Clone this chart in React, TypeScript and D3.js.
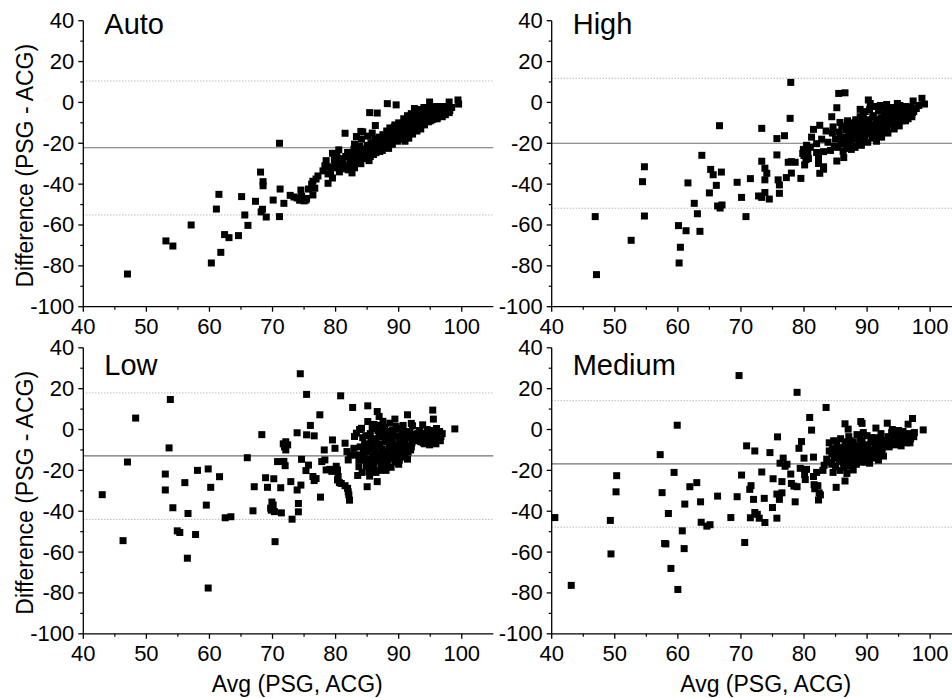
import React from 'react';
import * as d3 from 'd3';

// [avg, diff] pairs
const autoPts = [
  [47.0,-84.0],[53.1,-67.8],[54.2,-70.3],[57.1,-60.0],[60.3,-78.6],[61.1,-52.2],[61.5,-45.0],[61.8,-73.4],[62.4,-64.7],[63.1,-66.2],
  [64.6,-65.2],[65.1,-46.1],[65.6,-55.1],[66.1,-60.2],[67.3,-48.4],[68.1,-34.1],[68.2,-53.6],[68.4,-52.3],[68.5,-38.8],[68.5,-40.8],
  [69.0,-56.1],[70.1,-47.8],[71.1,-20.0],[71.2,-42.4],[71.1,-55.9],[71.8,-49.4],[72.8,-45.5],[73.4,-46.3],[73.9,-46.8],[74.3,-47.9],
  [74.6,-46.0],[75.0,-48.2],[75.4,-47.0],[74.5,-42.9],[75.3,-47.8],[75.7,-42.4],[76.2,-40.0],[76.4,-38.6],[76.9,-37.5],[76.4,-45.3],
  [76.7,-42.0],[77.2,-36.0],[78.3,-31.0],[78.8,-35.0],[78.8,-39.6],[79.5,-37.0],[79.0,-31.5],[79.6,-31.8],[80.2,-32.0],[80.8,-32.3],
  [81.4,-32.5],[82.0,-33.0],[82.6,-34.5],[83.0,-32.0],[83.2,-29.5],[83.6,-28.0],[82.7,-27.0],[79.5,-24.9],[80.2,-26.0],[80.5,-23.2],
  [81.5,-15.1],[83.0,-20.4],[83.3,-16.7],[84.3,-14.4],[84.0,-14.2],[85.4,-5.0],[86.6,-5.2],[86.3,-11.3],[85.3,-28.5],[88.2,-0.6],
  [89.6,-1.2],[94.9,0.2],[98.0,0.2],[99.4,1.2],[99.5,-0.8],
  [84.2,-25.5],[84.6,-22.8],[85.0,-21.0],[85.2,-24.0],[85.6,-19.8],[85.9,-22.5],[86.2,-18.0],[86.4,-24.6],[86.6,-20.5],[86.9,-17.0],
  [87.1,-22.0],[87.3,-19.0],[87.5,-15.8],[87.7,-21.0],[87.9,-17.5],[88.1,-14.0],[88.3,-19.5],[88.5,-16.0],[88.7,-13.0],[88.9,-18.5],
  [89.1,-15.0],[89.3,-12.0],[89.5,-17.0],[89.7,-14.0],[89.9,-11.5],[90.1,-16.5],[90.3,-13.0],[90.5,-18.0],[90.7,-11.0],[90.9,-14.5],
  [91.1,-16.0],[91.3,-10.0],[91.5,-12.5],[91.7,-15.0],[91.9,-8.5],[92.1,-11.0],[92.3,-13.5],[92.5,-3.0],[92.6,-7.0],[92.8,-9.5],
  [93.0,-12.0],[93.2,-5.5],[93.4,-8.0],[93.6,-4.0],[93.8,-10.0],[94.0,-6.5],[94.2,-3.5],[94.4,-8.5],[94.6,-5.0],[94.8,-7.0],
  [95.0,-9.0],[95.2,-4.0],[95.4,-6.0],[95.6,-8.0],[95.8,-3.0],[96.0,-5.5],[96.2,-7.0],[96.4,-4.0],[96.6,-2.5],[96.8,-5.0],
  [97.0,-6.0],[97.2,-3.5],[97.5,-4.5],[97.8,-3.0],[98.1,-4.0],[98.4,-2.5],
  [79.8,-28.0],[80.3,-29.5],[80.8,-27.5],[81.2,-30.0],[81.6,-26.5],[81.9,-24.5],[82.3,-29.0],[82.6,-25.5],[82.9,-23.0],[83.4,-26.0],
  [83.7,-24.0],[84.0,-30.0],[84.4,-27.5],[84.8,-25.0],[85.5,-26.5],[86.0,-25.5],[86.5,-22.0],[87.0,-24.0],[87.6,-18.5],[88.0,-21.5],
  [88.4,-22.5],[89.0,-20.5],[89.8,-19.0],[90.4,-15.5],[91.0,-19.0],[91.6,-17.5],[92.2,-15.5],[92.9,-14.0],[93.5,-13.0],[94.1,-11.0],
  [94.7,-9.5],[95.3,-8.5],[96.1,-8.0],[96.9,-7.0],[97.4,-6.0],[98.0,-5.0],[88.6,-12.5],[89.4,-11.0],[90.0,-10.0],[90.8,-8.0],
  [91.4,-6.5],[92.0,-5.5],[93.0,-3.5],[94.0,-2.5],[95.0,-2.5],[96.0,-2.0],[97.0,-2.0],
  [78.0,-33.5],[78.5,-28.5],[79.2,-34.0],[80.0,-30.5],[80.6,-34.0],[81.0,-28.5],[81.8,-31.0],[82.4,-31.5],[83.8,-21.5],[84.1,-18.0],
  [85.1,-16.5],[85.8,-15.0],[86.8,-19.0],[87.4,-23.5],[88.2,-16.8],[89.2,-13.5],[89.9,-15.0],[90.6,-12.5],[91.2,-13.0],[91.8,-10.5],
  [92.4,-8.0],[93.1,-6.5],[93.7,-7.0],[94.3,-5.0],[95.5,-5.0],[96.5,-5.5],[97.6,-4.0]
];

const highPts = [
  [46.9,-55.9],[47.1,-84.3],[52.6,-67.5],[54.4,-38.8],[54.7,-31.5],[54.7,-55.6],[60.1,-60.3],[60.2,-78.6],[60.4,-70.9],[61.3,-62.8],
  [61.6,-39.4],[62.6,-49.4],[63.1,-54.5],[63.5,-63.1],[63.8,-25.9],[65.0,-44.3],[65.2,-32.8],[65.6,-35.4],[66.1,-40.6],[66.3,-50.7],
  [66.7,-51.7],[66.9,-34.1],[67.0,-50.2],[66.6,-11.4],[69.4,-39.1],[70.1,-46.5],[70.8,-55.9],[71.5,-37.3],[72.8,-45.8],[73.3,-12.7],
  [73.3,-28.8],[73.3,-46.5],[73.8,-32.2],[73.8,-37.9],[74.1,-34.7],[73.8,-44.1],[74.5,-47.3],[75.7,-17.7],[75.7,-25.7],[75.9,-37.9],
  [76.1,-40.4],[76.1,-44.5],[76.9,-16.3],[77.8,-7.8],[77.9,9.8],[77.2,-36.8],[77.5,-29.3],[78.0,-29.0],[78.6,-29.3],[78.0,-34.6],
  [79.5,-37.2],[79.9,-23.0],[80.0,-26.0],[80.1,-30.6],[80.4,-21.0],[81.5,-13.2],[82.0,-20.2],[82.5,-11.2],[82.8,-18.0],[82.3,-27.4],
  [82.3,-29.9],[82.5,-34.7],[83.1,-24.1],[83.1,-31.5],[83.1,-32.7],[84.4,-7.0],[85.2,-2.6],[85.2,-28.7],[85.5,4.4],[86.5,4.7],
  [85.7,-9.8],[90.2,1.2],[88.9,-3.4],[94.8,-0.5],[97.3,0.7],[98.7,2.0],[99.1,-0.8],[80.6,-24.5],[81.0,-22.0],[80.3,-28.0],
  [84.5,-15.0],[85.0,-18.0],[84.8,-21.5],[85.6,-14.5],[85.9,-20.5],[86.2,-24.0],[86.6,-17.0],[86.8,-22.5],
  [87.0,-12.0],[87.2,-16.0],[87.4,-20.0],[87.6,-10.0],[87.8,-14.0],[88.0,-18.0],[88.2,-8.5],[88.4,-12.5],[88.6,-16.5],[88.8,-20.5],
  [89.0,-10.5],[89.2,-14.5],[89.4,-6.0],[89.6,-18.0],[89.8,-12.0],[90.0,-8.5],[90.2,-15.5],[90.4,-3.5],[90.6,-11.0],[90.8,-17.5],
  [91.0,-6.5],[91.2,-13.5],[91.4,-9.5],[91.6,-16.0],[91.8,-4.0],[92.0,-11.5],[92.2,-7.5],[92.4,-14.0],[92.6,-2.5],[92.8,-9.0],
  [93.0,-5.5],[93.2,-12.0],[93.4,-3.0],[93.6,-8.0],[93.8,-10.5],[94.0,-5.0],[94.2,-2.5],[94.4,-7.5],[94.6,-11.0],[94.8,-4.5],
  [95.0,-9.0],[95.2,-1.5],[95.4,-6.5],[95.6,-3.5],[95.8,-8.0],[96.0,-5.0],[96.2,-2.0],[96.4,-6.5],[96.6,-3.5],[96.8,-5.0],
  [97.0,-2.5],[97.4,-4.5],[97.8,-3.0],[98.2,-1.5],
  [87.5,-23.0],[88.1,-22.0],[89.1,-21.0],[90.1,-19.5],[88.9,-7.0],[89.7,-4.5],[90.5,-0.5],[91.3,-2.0],[92.1,-1.5],[93.1,-1.0],
  [91.5,-19.0],[92.3,-17.0],[93.3,-15.0],[94.3,-13.0],[95.1,-11.5],[96.1,-9.0],[97.1,-7.0],
  [86.0,-11.5],[86.4,-19.5],[86.9,-9.0],[87.1,-14.5],[87.3,-18.0],[87.7,-12.5],[87.9,-21.5],[88.3,-15.0],[88.5,-10.0],[88.7,-18.5],
  [89.1,-12.5],[89.3,-16.5],[89.5,-9.5],[89.9,-14.0],[90.3,-10.0],[90.7,-13.5],[90.9,-7.0],[91.1,-16.0],[91.5,-11.5],[91.7,-8.5],
  [91.9,-14.0],[92.5,-11.0],[92.7,-6.0],[93.5,-10.0],[93.9,-7.0],[94.5,-9.5],[94.9,-6.0],[95.5,-9.0],[95.9,-6.0],[96.5,-8.0],
  [97.2,-5.0],[83.8,-19.5],[84.2,-23.5],[84.6,-12.0],[85.3,-22.0],[85.8,-17.5],[86.3,-27.0],[86.7,-13.5],[81.2,-17.0],[83.5,-14.0],
  [82.0,-24.5],[80.7,-27.5],[79.8,-25.0]
];

const lowPts = [
  [43.0,-31.9],[46.3,-54.4],[47.0,-15.9],[48.3,5.6],[53.0,-21.8],[53.0,-29.6],[53.6,-9.0],[53.8,14.7],[54.2,-38.3],[54.9,-49.6],
  [55.3,-50.4],[56.1,-26.0],[56.5,-63.0],[56.6,-41.1],[57.8,-51.4],[58.1,-20.0],[59.5,-37.0],[59.8,-19.3],[59.8,-77.6],[60.2,-28.3],
  [61.6,-23.1],[62.5,-43.2],[63.4,-42.7],[66.0,-13.8],[66.9,-39.8],[67.1,-28.0],[68.3,-2.5],[68.9,-23.6],[69.2,-28.3],[69.7,-38.5],
  [69.9,-35.5],[70.1,-37.0],[69.8,-39.5],[70.3,-40.2],[70.2,-24.1],[70.4,-54.9],[70.8,-15.7],[71.3,-28.5],[71.4,-40.8],[71.7,-7.0],
  [71.9,-8.5],[72.1,-6.0],[72.4,-7.5],[71.8,-15.6],[72.0,-17.7],[72.1,-10.0],[72.9,-25.5],[73.1,-43.9],[73.9,-29.6],[73.9,-1.6],
  [74.1,-36.2],[74.1,-40.3],[74.4,27.3],[74.5,-27.2],[74.6,-14.6],[75.3,-20.1],[75.4,17.2],[75.4,-2.6],[75.7,-17.4],[76.0,2.0],
  [76.4,-23.0],[76.6,-25.0],[76.9,-24.0],[76.6,-3.1],[77.5,7.2],[77.6,-33.1],[77.8,-15.7],[78.3,-14.9],[78.2,-10.0],[78.5,-19.8],
  [79.1,-19.5],[79.4,-20.5],[79.5,-5.1],[79.9,-9.2],[80.1,-18.0],[80.3,-19.8],[80.4,-23.0],[80.3,-24.7],[80.6,-26.0],[80.9,-26.4],
  [80.8,16.5],[81.5,-27.5],[81.9,-28.8],[82.0,-30.5],[82.1,-32.0],[82.2,-34.6],[81.5,-6.7],[81.8,-10.8],[82.3,-12.5],[82.0,-14.9],
  [82.7,10.8],[83.0,-3.4],[83.3,-1.8],[83.8,0.0],[84.1,0.6],[82.9,-9.2],[83.1,-12.5],[83.7,-15.0],[83.7,-18.2],[84.4,-10.0],
  [84.7,-15.0],[85.0,-28.0],[85.1,11.6],[85.1,3.9],[84.9,-18.0],[85.3,-20.5],[85.4,-22.8],[86.6,8.8],[86.9,6.4],[86.6,-25.5],
  [87.5,-19.0],[88.6,3.1],[89.4,5.1],[91.4,7.2],[92.0,3.0],[92.2,1.8],[93.8,2.3],[95.4,9.5],[95.5,5.1],[98.9,0.3],
  [89.1,-14.0],[90.1,-15.0],[91.0,-13.5],[91.4,-14.5],
  [85.5,-2.0],[85.7,-8.0],[85.9,-13.0],[86.0,-17.5],[86.2,-4.5],[86.3,-10.5],[86.5,-15.0],[86.7,-0.5],[86.8,-7.0],[87.0,-12.0],
  [87.1,-20.0],[87.3,-3.5],[87.4,-9.5],[87.6,-14.5],[87.8,1.0],[87.9,-6.0],[88.1,-11.0],[88.2,-17.0],[88.4,-2.5],[88.5,-8.5],
  [88.7,-13.5],[88.9,-5.0],[89.0,-0.5],[89.2,-10.0],[89.4,-16.0],[89.6,-3.0],[89.7,-7.5],[89.9,-12.0],[90.1,0.5],[90.3,-5.5],
  [90.4,-9.0],[90.6,-2.0],[90.8,-11.0],[91.0,-6.5],[91.2,-1.0],[91.4,-8.0],[91.7,-4.0],[91.9,-10.0],[92.1,-6.5],[92.3,-2.5],
  [85.8,0.5],[86.4,-21.0],[87.2,-17.5],[88.0,-20.0],[86.1,2.5],[87.5,4.0],[88.8,-18.5],[90.0,-17.0],[84.3,-4.0],[84.6,-7.0],
  [85.2,-11.0],[85.3,-14.5],[84.2,-21.0],[83.5,-22.5],[84.0,-12.5],
  [92.6,-4.0],[92.9,-5.5],[93.2,-3.0],[93.5,-6.0],[93.8,-4.5],[94.1,-7.0],[94.3,-2.0],[94.6,-5.5],[94.9,-7.5],[95.1,-3.5],
  [95.3,-6.5],[95.5,-1.5],[95.7,-4.5],[95.9,-7.0],[96.1,-2.5],[96.3,-5.0],[96.5,-1.0],[96.7,-3.5],[96.9,-2.0],[95.0,-0.5],
  [94.5,0.0],[96.0,0.5],[93.3,-0.5],
  [85.6,-5.0],[85.9,-9.5],[86.1,-16.0],[86.4,-6.5],[86.6,-12.5],[86.9,-2.5],[87.0,-8.0],[87.2,-14.0],[87.5,-0.5],[87.7,-11.5],
  [88.0,-4.0],[88.3,-14.5],[88.6,-6.5],[88.8,-10.5],[89.1,-2.0],[89.3,-7.5],[89.5,-12.5],[89.8,-9.5],[90.0,-4.0],[90.2,-12.5],
  [90.5,-7.0],[90.9,-3.5],[91.1,-9.5],[91.5,-11.0],[91.8,-1.5],[92.0,-8.5],[86.2,-20.0],[87.8,-16.5],[85.0,-9.0],[84.8,-3.0],
  [85.4,-17.0],[84.5,-12.5],[83.9,-8.5],[88.5,-1.0],[90.7,2.0],[89.6,1.5],[87.0,2.0],
  [93.0,-2.0],[93.6,-2.5],[94.0,-5.0],[94.8,-3.0],[95.6,-2.5],[96.2,-3.5],[96.6,-5.5],[95.8,-5.5],[94.4,-4.0],[93.9,-6.5]
];

const mediumPts = [
  [40.5,-43.1],[43.1,-76.3],[49.3,-44.5],[49.4,-60.9],[50.2,-30.5],[50.3,-22.6],[57.2,-12.3],[57.5,-30.9],[57.9,-55.8],[58.1,-56.0],
  [58.5,-41.1],[58.9,-68.0],[59.4,-21.0],[59.9,2.1],[60.0,-78.3],[60.7,-49.6],[61.0,-58.3],[61.1,-36.5],[61.9,-28.0],[63.0,-26.0],
  [63.6,-35.4],[63.7,-45.4],[64.6,-47.3],[65.1,-46.6],[66.3,-32.6],[68.4,-43.1],[69.4,-32.9],[69.7,26.4],[70.1,-22.3],[70.6,-55.3],
  [70.9,-8.0],[71.4,-29.3],[71.6,-27.5],[71.5,-43.2],[72.0,-34.2],[72.2,-10.5],[72.2,-40.6],[72.6,-41.5],[72.9,-43.4],[73.3,-20.8],
  [73.7,-33.7],[73.8,-45.5],[74.6,-11.3],[75.0,-38.2],[75.1,-24.1],[75.8,-3.6],[75.7,-31.6],[75.7,-43.4],[76.1,-34.2],[76.5,-31.0],
  [76.5,-25.5],[76.2,-16.5],[76.7,-14.0],[77.0,-18.0],[77.3,-17.0],[77.9,-21.8],[78.0,-26.4],[78.6,-35.4],[78.4,-27.7],[78.9,18.2],
  [78.9,-28.0],[79.2,-9.2],[79.6,-5.9],[79.4,-19.0],[80.0,-14.0],[80.1,-22.0],[80.2,-24.5],[80.4,-19.5],[80.9,5.9],[81.2,-0.3],
  [81.5,-13.5],[81.5,-23.0],[81.6,-27.0],[81.7,-29.0],[82.0,-21.0],[82.2,-27.5],[82.4,-31.0],[82.3,-34.5],[82.6,-32.0],[83.5,10.8],
  [83.6,-14.5],[84.0,-6.5],[84.4,-12.0],[85.1,-28.3],[86.5,2.8],[87.0,0.2],[86.5,-25.2],[87.8,-19.8],[89.0,3.9],[89.2,3.0],
  [89.4,-1.5],[91.4,0.7],[93.2,3.1],[96.5,2.6],[97.2,5.4],[98.9,-0.2],
  [84.2,-16.0],[84.5,-9.5],[84.8,-13.0],[85.0,-18.0],[85.2,-7.0],[85.4,-11.0],[85.6,-15.5],[85.8,-4.5],[86.0,-9.0],[86.1,-13.5],
  [86.3,-18.5],[86.5,-6.0],[86.7,-11.0],[86.9,-15.0],[87.1,-3.5],[87.2,-8.5],[87.4,-13.0],[87.6,-17.0],[87.8,-6.0],[88.0,-10.5],
  [88.2,-14.5],[88.4,-2.5],[88.6,-8.0],[88.8,-12.0],[89.0,-16.0],[89.2,-5.5],[89.4,-10.0],[89.6,-14.0],[89.8,-7.5],[90.0,-3.0],
  [90.2,-11.5],[90.4,-16.5],[90.6,-6.0],[90.8,-9.5],[91.0,-13.5],[91.2,-4.0],[91.4,-8.0],[91.6,-11.5],[91.8,-15.0],[92.0,-6.5],
  [92.2,-2.0],[92.4,-9.5],[92.6,-13.0],[92.8,-5.5],[93.0,-8.0],
  [93.3,-3.5],[93.6,-6.0],[93.9,-1.5],[94.2,-4.5],[94.5,-7.5],[94.8,-2.5],[95.1,-5.5],[95.4,-8.0],[95.7,-1.0],[96.0,-4.0],
  [96.3,-6.5],[96.6,-2.0],[96.9,-4.5],[97.2,-3.0],[97.5,-1.5],[94.0,0.0],[95.0,-0.5],
  [84.0,-10.5],[84.4,-17.0],[84.7,-5.5],[85.1,-14.0],[85.5,-9.0],[85.9,-12.0],[86.2,-16.0],[86.6,-8.5],[86.8,-13.5],[87.0,-18.0],
  [87.3,-5.5],[87.5,-10.5],[87.9,-14.0],[88.1,-8.0],[88.3,-17.0],[88.5,-11.0],[88.9,-4.5],[89.1,-13.5],[89.3,-7.5],[89.7,-11.5],
  [89.9,-16.0],[90.1,-8.5],[90.5,-13.0],[90.7,-4.0],[90.9,-11.5],[91.3,-6.5],[91.5,-14.0],[91.9,-9.0],[92.1,-4.5],[92.3,-12.0],
  [92.7,-8.0],[93.1,-5.5],[93.5,-8.5],[94.1,-6.0],[94.7,-5.0],[95.3,-3.0],[96.1,-5.5],[96.8,-6.5],[97.4,-3.5],[83.2,-17.5],
  [83.0,-20.0],[84.6,-21.0],[85.7,-20.0],[86.8,-21.5]
];

const panelNames = ['Auto', 'High', 'Low', 'Medium'];
const biasValues = [-22.2, -20.0, -12.9, -16.8];
const upperLimits = [10.5, 11.8, 17.9, 14.1];
const lowerLimits = [-55.1, -51.8, -44.0, -47.8];
const xTicks = [40, 50, 60, 70, 80, 90, 100];
const yTicks = [40, 20, 0, -20, -40, -60, -80, -100];

const FONT = 'Arial, "Liberation Sans", Helvetica, sans-serif';

function Panel({ name, pts, bias, upper, lower, left, top, titleY, showYTitle, showXTitle }) {
  const x = d3.scaleLinear().domain([40, 105]).range([left, left + 410]);
  const y = d3.scaleLinear().domain([-100, 40]).range([top + 286, top]);
  const x0 = x(40), y0 = y(-100);
  const minorX = d3.range(45, 105, 10);
  const minorY = d3.range(-90, 40, 20);
  const s = 7;
  return (
    <g>
      <line x1={x0} x2={x(105)} y1={y(upper)} y2={y(upper)} stroke="#9a9a9a" strokeWidth={1} strokeDasharray="1,2" />
      <line x1={x0} x2={x(105)} y1={y(lower)} y2={y(lower)} stroke="#9a9a9a" strokeWidth={1} strokeDasharray="1,2" />
      <line x1={x0} x2={x(105)} y1={y(bias)} y2={y(bias)} stroke="#707070" strokeWidth={1.1} />
      {pts.map((p, i) => (
        <rect key={i} x={x(p[0]) - s / 2} y={y(p[1]) - s / 2} width={s} height={s} fill="#000" />
      ))}
      <line x1={x0} x2={x(105)} y1={y0} y2={y0} stroke="#000" strokeWidth={1.3} />
      <line x1={x0} x2={x0} y1={y0} y2={y(40)} stroke="#000" strokeWidth={1.3} />
      {xTicks.map(t => (
        <g key={'x' + t}>
          <line x1={x(t)} x2={x(t)} y1={y0} y2={y0 + 5} stroke="#000" strokeWidth={1.3} />
          <text x={x(t)} y={y0 + 27} textAnchor="middle" fontSize={22} fontFamily={FONT}>{t}</text>
        </g>
      ))}
      {minorX.map(t => (
        <line key={'mx' + t} x1={x(t)} x2={x(t)} y1={y0} y2={y0 + 3} stroke="#000" strokeWidth={1.2} />
      ))}
      {yTicks.map(t => (
        <g key={'y' + t}>
          <line x1={x0 - 5} x2={x0} y1={y(t)} y2={y(t)} stroke="#000" strokeWidth={1.3} />
          <text x={x0 - 9} y={y(t) + 7.5} textAnchor="end" fontSize={22} fontFamily={FONT}>{t}</text>
        </g>
      ))}
      {minorY.map(t => (
        <line key={'my' + t} x1={x0 - 3} x2={x0} y1={y(t)} y2={y(t)} stroke="#000" strokeWidth={1.2} />
      ))}
      <text x={x0 + 21} y={titleY} fontSize={29} fontFamily={FONT}>{name}</text>
      {showYTitle && (
        <text transform={`translate(33,${top + 145}) rotate(-90)`} textAnchor="middle" fontSize={23} fontFamily={FONT}>
          Difference (PSG - ACG)
        </text>
      )}
      {showXTitle && (
        <text x={x0 + 214} y={y0 + 58} textAnchor="middle" fontSize={23} fontFamily={FONT}>Avg (PSG, ACG)</text>
      )}
    </g>
  );
}

export default function App() {
  const allPts = [autoPts, highPts, lowPts, mediumPts];
  const lefts = [83.3, 551.7, 83.3, 551.7];
  const tops = [20.7, 20.7, 347.8, 347.8];
  const titleYs = [33.5, 33.5, 375, 375];
  return (
    <svg width={952} height={698} style={{ position: 'absolute', left: 0, top: 0, background: '#fff' }}>
      <rect width={952} height={698} fill="#fff" />
      {panelNames.map((n, i) => (
        <Panel key={n} name={n} pts={allPts[i]} bias={biasValues[i]} upper={upperLimits[i]} lower={lowerLimits[i]}
          left={lefts[i]} top={tops[i]} titleY={titleYs[i]} showYTitle={i % 2 === 0} showXTitle={i >= 2} />
      ))}
    </svg>
  );
}
